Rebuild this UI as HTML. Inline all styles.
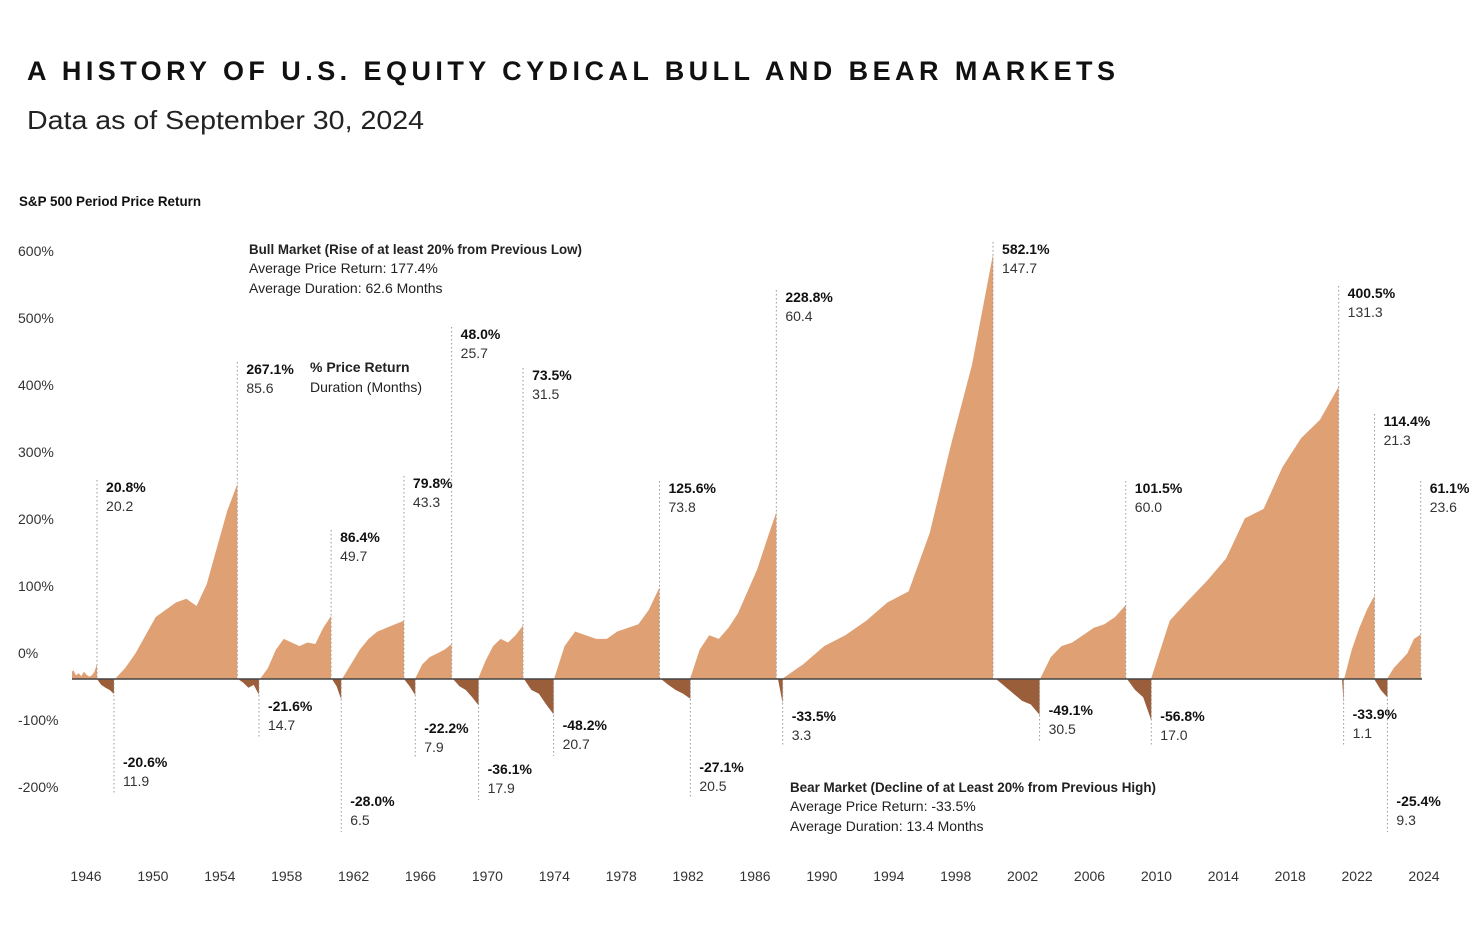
<!DOCTYPE html>
<html><head><meta charset="utf-8"><style>
html,body{margin:0;padding:0;background:#fff;}
svg{display:block;font-family:"Liberation Sans",sans-serif;}
</style></head><body>
<svg id="chart" width="1476" height="932" viewBox="0 0 1476 932">
<text x="27" y="80" font-size="27" font-weight="bold" fill="#111" textLength="1088" lengthAdjust="spacing">A HISTORY OF U.S. EQUITY CYDICAL BULL AND BEAR MARKETS</text>
<text x="27" y="129" font-size="26" fill="#222" textLength="397" lengthAdjust="spacingAndGlyphs">Data as of September 30, 2024</text>
<text x="19" y="206" font-size="14" font-weight="bold" fill="#111" textLength="182" lengthAdjust="spacingAndGlyphs">S&amp;P 500 Period Price Return</text>
<g font-size="14" fill="#222">
<text x="249" y="254" font-weight="bold" textLength="333" lengthAdjust="spacingAndGlyphs">Bull Market (Rise of at least 20% from Previous Low)</text>
<text x="249" y="273">Average Price Return: 177.4%</text>
<text x="249" y="293">Average Duration: 62.6 Months</text>
</g>
<g font-size="14" fill="#222">
<text x="310" y="372" font-weight="bold">% Price Return</text>
<text x="310" y="392">Duration (Months)</text>
</g>
<g font-size="14" fill="#222">
<text x="790" y="792" font-weight="bold" textLength="366" lengthAdjust="spacingAndGlyphs">Bear Market (Decline of at Least 20% from Previous High)</text>
<text x="790" y="811">Average Price Return: -33.5%</text>
<text x="790" y="831">Average Duration: 13.4 Months</text>
</g>
<defs><clipPath id="plotclip"><rect x="72" y="0" width="1400" height="932"/></clipPath></defs>
<g id="marks" clip-path="url(#plotclip)"></g>
<g id="annots"></g>
<g id="axes"></g>
</svg>
<script>
// ---- data ----
const yTickLabels = ["600%","500%","400%","300%","200%","100%","0%","-100%","-200%"];
const xTickLabels = ["1946","1950","1954","1958","1962","1966","1970","1974","1978","1982","1986","1990","1994","1998","2002","2006","2010","2014","2018","2022","2024"];
const segType = ["bull","bear","bull","bear","bull","bear","bull","bear","bull","bear","bull","bear","bull","bear","bull","bear","bull","bear","bull","bear","bull","bear","bull","bear","bull"];
const segStart = [1944.96,1946.64,1947.69,1954.86,1956.15,1960.34,1960.93,1964.54,1965.18,1967.40,1968.86,1971.54,1973.29,1979.53,1981.22,1986.35,1986.58,1999.06,2001.63,2006.70,2008.10,2019.24,2019.36,2021.11,2021.86];
const segMonths = [20.2,11.9,85.6,14.7,49.7,6.5,43.3,7.9,25.7,17.9,31.5,20.7,73.8,20.5,60.4,3.3,147.7,30.5,60.0,17.0,131.3,1.1,21.3,9.3,23.6];
const segReturn = [20.8,-20.6,267.1,-21.6,86.4,-28.0,79.8,-22.2,48.0,-36.1,73.5,-48.2,125.6,-27.1,228.8,-33.5,582.1,-49.1,101.5,-56.8,400.5,-33.9,114.4,-25.4,61.1];
const segShape = [
 [0,8,12,5,8,4,10,6,3,5,10,20.8],
 [0,-8,-12,-15,-20.6],
 [0,15,35,60,85,95,105,110,100,130,180,230,267.1],
 [0,-5,-12,-8,-21.6],
 [0,15,40,55,50,45,50,48,70,86.4],
 [0,-10,-28.0],
 [0,20,40,55,65,70,75,79.8],
 [0,-10,-22.2],
 [0,20,30,35,40,48.0],
 [0,-10,-15,-25,-36.1],
 [0,25,45,55,50,60,73.5],
 [0,-15,-20,-35,-48.2],
 [0,45,65,60,55,55,65,70,75,95,125.6],
 [0,-8,-15,-20,-27.1],
 [0,40,60,55,70,90,120,150,190,228.8],
 [0,-33.5],
 [0,20,45,60,80,105,120,200,320,430,582.1],
 [0,-10,-20,-30,-35,-49.1],
 [0,30,45,50,60,70,75,85,101.5],
 [0,-15,-25,-56.8],
 [0,80,108,135,165,220,233,290,330,355,400.5],
 [0,-33.9],
 [0,40,70,95,114.4],
 [0,-15,-25.4],
 [0,15,25,35,55,61.1]
];
// ---- layout (label vertical positions, px) ----
const labelTop = [480,793,362,737,530,832,476,759,327,800,368,756,481,798,290,747,242,741,481,747,286,745,414,832,481];

const NS="http://www.w3.org/2000/svg";
const BASE=679, PX=0.73;
const xs = yr => 86 + (yr-1946)*17.15;
const ys = v => BASE - v*PX;
function mk(tag, attrs, parent){const e=document.createElementNS(NS,tag);for(const k in attrs)e.setAttribute(k,attrs[k]);parent.appendChild(e);return e;}
const marks=document.getElementById('marks'), annots=document.getElementById('annots'), axes=document.getElementById('axes');

segType.forEach((t,i)=>{
  const x0=xs(segStart[i]), x1=xs(segStart[i]+segMonths[i]/12);
  const sh=segShape[i], n=sh.length-1;
  let d=`M${x0.toFixed(2)},${BASE}`;
  sh.forEach((v,j)=>{d+=` L${(x0+(x1-x0)*j/n).toFixed(2)},${ys(v).toFixed(2)}`;});
  d+=` L${x1.toFixed(2)},${BASE} Z`;
  const p=mk('path',{d:d,fill:t==='bull'?'#dfa074':'#9a5e3a'},marks);
  
  
  // annotation
  const top=labelTop[i];
  const ln = t==='bull'
    ? mk('line',{x1:x1,x2:x1,y1:top,y2:BASE,stroke:'#999','stroke-width':1,'stroke-dasharray':'1.5,2.5'},annots)
    : mk('line',{x1:x1,x2:x1,y1:BASE,y2:top,stroke:'#999','stroke-width':1,'stroke-dasharray':'1.5,2.5'},annots);
  
  
  const tx = x1+9;
  const yb = t==='bull' ? top+12 : top-26;
  const a=mk('text',{x:tx,y:yb,'font-size':14,'font-weight':'bold',fill:'#111'},annots);
  a.textContent=segReturn[i].toFixed(1)+'%';
  
  
  const b=mk('text',{x:tx,y:yb+19,'font-size':14,fill:'#333'},annots);
  b.textContent=segMonths[i].toFixed(1);
  
  
});
const bl=mk('line',{x1:72,x2:1422,y1:BASE,y2:BASE,stroke:'#444','stroke-width':1.5},axes);


yTickLabels.forEach((s,i)=>{
  const e=mk('text',{x:18,y:256+67*i,'font-size':14,fill:'#333'},axes);
  e.textContent=s;
  
  
});
xTickLabels.forEach((s,i)=>{
  const e=mk('text',{x:86+66.9*i,y:881,'font-size':14,fill:'#333','text-anchor':'middle'},axes);
  e.textContent=s;
  
  
});
</script>
</body></html>
